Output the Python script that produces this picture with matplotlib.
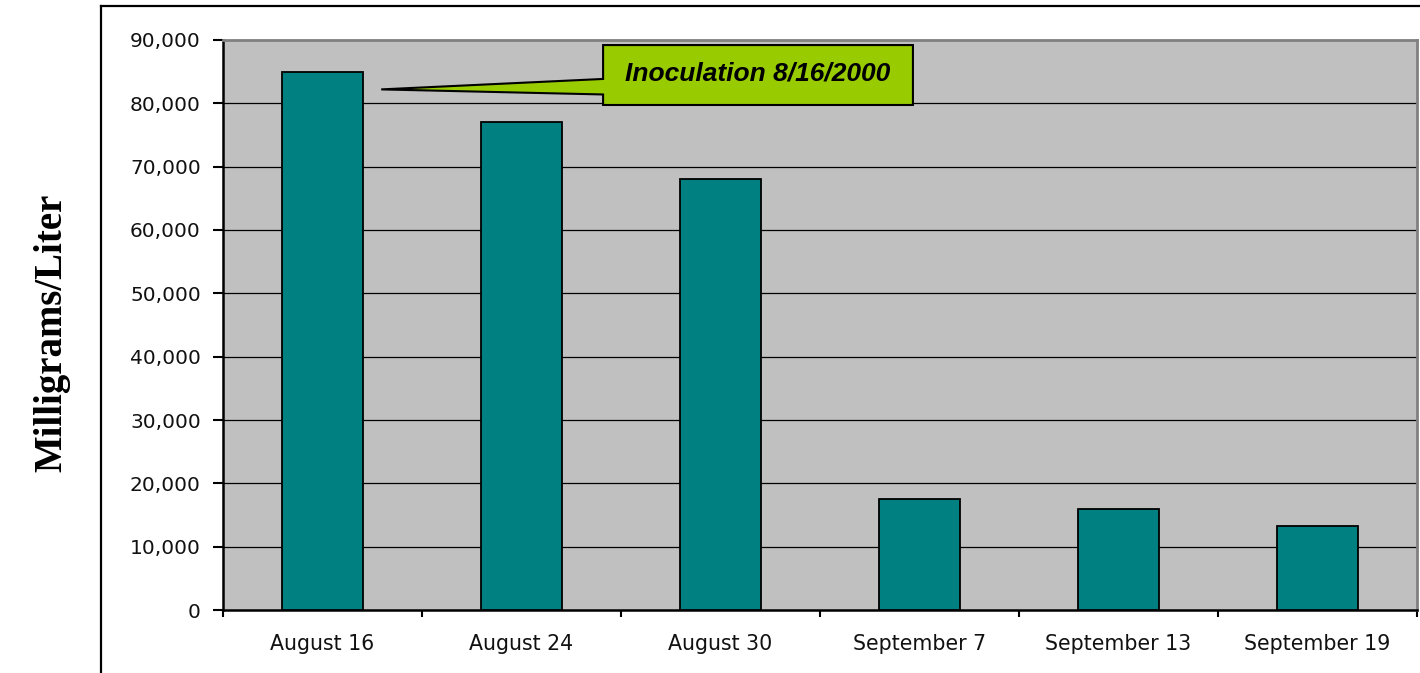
import matplotlib
matplotlib.use("Agg")
import matplotlib.pyplot as plt
from matplotlib.patches import Polygon
from matplotlib.lines import Line2D
from matplotlib.ticker import FuncFormatter, FixedLocator

categories = ["August 16", "August 24", "August 30", "September 7", "September 13", "September 19"]
values = [85000, 77000, 68000, 17500, 16000, 13200]
y_ticks = [0, 10000, 20000, 30000, 40000, 50000, 60000, 70000, 80000, 90000]
callout_text = "Inoculation 8/16/2000"
y_label = "Milligrams/Liter"

fig = plt.figure(figsize=(14.2, 6.73), dpi=100)
fig.patch.set_facecolor("white")
ax = fig.add_axes([223/1420, 1-610/673, (1417-223)/1420, (610-40)/673])
ax.set_facecolor("#C0C0C0")

x = list(range(len(categories)))
ax.bar(x, values, width=0.41, color="#008080", edgecolor="black", linewidth=1.3, zorder=3)

ax.set_xlim(-0.5, len(categories) - 0.5)
ax.set_ylim(0, 90000)
ax.set_yticks(y_ticks)
ax.yaxis.set_major_formatter(FuncFormatter(lambda v, p: f"{int(v):,}"))
for t in y_ticks[1:-1]:
    ax.axhline(t, color="black", linewidth=0.9, zorder=1)

ax.set_xticks(x)
ax.set_xticklabels(categories)
ax.xaxis.set_minor_locator(FixedLocator([i - 0.5 for i in range(len(categories) + 1)]))
ax.tick_params(axis="x", which="major", length=0, pad=17)
ax.tick_params(axis="x", which="minor", length=5, width=1.5, direction="out")
ax.tick_params(axis="y", which="major", length=7, width=1.5, direction="out", pad=9)
for lab in ax.get_xticklabels():
    lab.set_fontfamily("DejaVu Sans")
    lab.set_fontsize(14.8)
    lab.set_color("#111111")
for lab in ax.get_yticklabels():
    lab.set_fontfamily("DejaVu Sans")
    lab.set_fontsize(14.5)
    lab.set_color("#111111")

for s in ["left", "bottom"]:
    ax.spines[s].set_linewidth(1.8)
    ax.spines[s].set_color("black")
for s in ["top", "right"]:
    ax.spines[s].set_linewidth(2)
    ax.spines[s].set_color("#808080")

ax.set_ylabel(y_label, fontsize=28, fontweight="bold", family=["Liberation Serif", "DejaVu Serif"])
ax.yaxis.label.set_verticalalignment("center")
ax.yaxis.set_label_coords(-(223-52)/1194, (610-333)/570)

# callout
tip = (0.295, 82200)
bx0, bx1, by0, by1 = 1.41, 2.967, 79740, 89200
py0, py1 = 81400, 83850
poly = Polygon([tip, (bx0, py0), (bx0, by0), (bx1, by0), (bx1, by1), (bx0, by1), (bx0, py1)],
               closed=True, facecolor="#99CC00", edgecolor="black", linewidth=1.5,
               zorder=6, clip_on=False, joinstyle="miter")
ax.add_patch(poly)
ax.text((bx0 + bx1) / 2, (by0 + by1) / 2 + 200, callout_text,
        family=["Liberation Sans"], fontsize=19,
        fontweight="bold", fontstyle="italic", ha="center", va="center", zorder=7, color="black")

# outer frame
fig.add_artist(Line2D([101/1420, 101/1420], [0, 1-6/673], color="black", linewidth=1.6, transform=fig.transFigure))
fig.add_artist(Line2D([101/1420, 1], [1-6/673, 1-6/673], color="black", linewidth=1.6, transform=fig.transFigure))

fig.savefig("out.png", dpi=100)
